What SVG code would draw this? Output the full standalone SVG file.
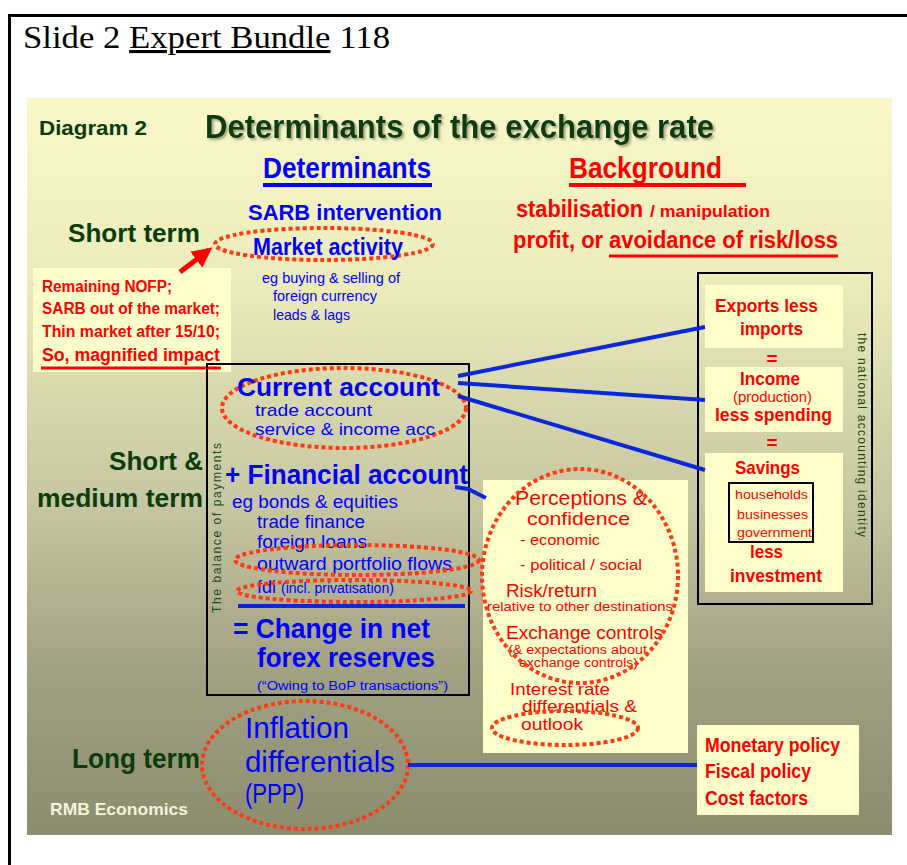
<svg xmlns="http://www.w3.org/2000/svg" width="907" height="865" viewBox="0 0 907 865">
<defs>
<linearGradient id="bg" x1="0" y1="0" x2="0" y2="1">
<stop offset="0" stop-color="#f8f8c8"/>
<stop offset="0.25" stop-color="#ebebbb"/>
<stop offset="0.55" stop-color="#c6c6a2"/>
<stop offset="0.8" stop-color="#9e9e80"/>
<stop offset="1" stop-color="#8c8c6e"/>
</linearGradient>
<filter id="sh" x="-5%" y="-20%" width="110%" height="150%">
<feDropShadow dx="2" dy="2" stdDeviation="1" flood-color="#707060" flood-opacity="0.6"/>
</filter>
<marker id="ah" viewBox="0 0 10 10" refX="8" refY="5" markerWidth="4" markerHeight="4" orient="auto">
<path d="M0,0 L10,5 L0,10 z" fill="#ff0000"/>
</marker>
<style>
text{font-family:"Liberation Sans",Arial,sans-serif}
.t{font-family:"Liberation Serif","Times New Roman",serif;fill:#000}
.g{fill:#0b3d0b;font-weight:bold}
.b{fill:#0000ff}
.r{fill:#ff0000}
.bd{font-weight:bold}
.box{fill:#ffffcc}
.frame{fill:none;stroke:#000;stroke-width:2}
.dot{fill:none;stroke:#ff3a12;stroke-width:4;stroke-dasharray:4 3}
.conn{fill:none;stroke:#0a28d8;stroke-width:4}
.ul-b{stroke:#0000ff;stroke-width:4}
.ul-r{stroke:#ff0000;stroke-width:3}
.vt{fill:#1c4a1c;font-size:12px}
</style>
</defs>

<!-- page frame and heading -->
<g id="page">
<path d="M9.5,865 L9.5,15.5 L907,15.5" fill="none" stroke="#000" stroke-width="3"/>
<text class="t" x="23" y="48" font-size="31" textLength="367" lengthAdjust="spacingAndGlyphs">Slide 2 <tspan text-decoration="underline">Expert Bundle</tspan> 118</text>
</g>

<!-- slide background -->
<g id="slide">
<rect x="27" y="98" width="865" height="737" fill="url(#bg)"/>
<text class="g" x="39" y="135" font-size="21" textLength="108" lengthAdjust="spacingAndGlyphs">Diagram 2</text>
<text class="g" x="205" y="138" font-size="34" textLength="509" lengthAdjust="spacingAndGlyphs" filter="url(#sh)">Determinants of the exchange rate</text>
<text class="b bd" x="263" y="178" font-size="29" textLength="168" lengthAdjust="spacingAndGlyphs">Determinants</text>
<line class="ul-b" x1="263" y1="185" x2="432" y2="185"/>
<text class="r bd" x="569" y="178" font-size="29" textLength="153" lengthAdjust="spacingAndGlyphs">Background</text>
<line x1="569" y1="185" x2="746" y2="185" stroke="#ff0000" stroke-width="4"/>
<text class="r bd" x="516" y="217" font-size="23" textLength="127" lengthAdjust="spacingAndGlyphs">stabilisation</text>
<text class="r bd" x="650" y="217" font-size="17" textLength="120" lengthAdjust="spacingAndGlyphs">/ manipulation</text>
<text class="r bd" x="513" y="248" font-size="23" textLength="325" lengthAdjust="spacingAndGlyphs">profit, or avoidance of risk/loss</text>
<line class="ul-r" x1="609" y1="256" x2="838" y2="256"/>
<text class="g" x="50" y="815" font-size="17" style="fill:#f4f4d8" textLength="138" lengthAdjust="spacingAndGlyphs">RMB Economics</text>
</g>

<!-- term labels -->
<g id="terms">
<text class="g" x="68" y="242" font-size="26" textLength="132" lengthAdjust="spacingAndGlyphs">Short term</text>
<text class="g" x="203" y="470" font-size="26" text-anchor="end">Short &amp;</text>
<text class="g" x="37" y="507" font-size="26" textLength="166" lengthAdjust="spacingAndGlyphs">medium term</text>
<text class="g" x="72" y="768" font-size="27" textLength="128" lengthAdjust="spacingAndGlyphs">Long term</text>
</g>

<!-- short term: SARB / market activity -->
<g id="market">
<text class="b bd" x="248" y="220" font-size="22" textLength="194" lengthAdjust="spacingAndGlyphs">SARB intervention</text>
<ellipse class="dot" cx="324" cy="244" rx="109" ry="16"/>
<text class="b bd" x="253" y="255" font-size="23" textLength="150" lengthAdjust="spacingAndGlyphs">Market activity</text>
<text class="b" x="262" y="283" font-size="15" textLength="138" lengthAdjust="spacingAndGlyphs">eg buying &amp; selling of</text>
<text class="b" x="273" y="301" font-size="15" textLength="104" lengthAdjust="spacingAndGlyphs">foreign currency</text>
<text class="b" x="273" y="320" font-size="15" textLength="77" lengthAdjust="spacingAndGlyphs">leads &amp; lags</text>
</g>

<!-- NOFP note -->
<g id="nofp">
<rect class="box" x="33" y="268" width="198" height="104"/>
<text class="r bd" x="42" y="292" font-size="16" textLength="130" lengthAdjust="spacingAndGlyphs">Remaining NOFP;</text>
<text class="r bd" x="42" y="314" font-size="16" textLength="178" lengthAdjust="spacingAndGlyphs">SARB out of the market;</text>
<text class="r bd" x="42" y="337" font-size="16" textLength="178" lengthAdjust="spacingAndGlyphs">Thin market after 15/10;</text>
<text class="r bd" x="42" y="361" font-size="18" textLength="178" lengthAdjust="spacingAndGlyphs">So, magnified impact</text>
<line class="ul-r" x1="41" y1="368" x2="221" y2="368"/>
</g>

<!-- balance of payments -->
<g id="bop">
<rect class="frame" x="207" y="364" width="262" height="331"/>
<text class="vt" transform="translate(221,613) rotate(-90)" textLength="170" lengthAdjust="spacing">The balance of payments</text>
<ellipse class="dot" cx="344" cy="408" rx="122" ry="40"/>
<text class="b bd" x="237" y="396" font-size="25" textLength="203" lengthAdjust="spacingAndGlyphs">Current account</text>
<text class="b" x="255" y="416" font-size="17" textLength="117" lengthAdjust="spacingAndGlyphs">trade account</text>
<text class="b" x="255" y="435" font-size="17" textLength="180" lengthAdjust="spacingAndGlyphs">service &amp; income acc</text>
<text class="b bd" x="225" y="484" font-size="27" textLength="243" lengthAdjust="spacingAndGlyphs">+ Financial account</text>
<text class="b" x="232" y="508" font-size="18" textLength="166" lengthAdjust="spacingAndGlyphs">eg bonds &amp; equities</text>
<text class="b" x="257" y="528" font-size="18" textLength="108" lengthAdjust="spacingAndGlyphs">trade finance</text>
<text class="b" x="257" y="548" font-size="18" textLength="110" lengthAdjust="spacingAndGlyphs">foreign loans</text>
<text class="b" x="257" y="570" font-size="18" textLength="195" lengthAdjust="spacingAndGlyphs">outward portfolio flows</text>
<text class="b" x="257" y="593" font-size="18">fdi <tspan font-size="14">(incl. privatisation)</tspan></text>
<ellipse class="dot" cx="357" cy="560" rx="122" ry="15"/>
<ellipse class="dot" cx="354" cy="591" rx="117" ry="11"/>
<line class="conn" x1="238" y1="606" x2="465" y2="606" stroke="#0000ff"/>
<text class="b bd" x="233" y="638" font-size="27" textLength="197" lengthAdjust="spacingAndGlyphs">= Change in net</text>
<text class="b bd" x="257" y="667" font-size="27" textLength="178" lengthAdjust="spacingAndGlyphs">forex reserves</text>
<text class="b" x="257" y="690" font-size="12.5" textLength="191" lengthAdjust="spacingAndGlyphs">(“Owing to BoP transactions”)</text>
</g>

<!-- perceptions -->
<g id="perceptions">
<rect class="box" x="483" y="480" width="205" height="273"/>
<text class="r" x="515" y="505" font-size="20" textLength="132" lengthAdjust="spacingAndGlyphs">Perceptions &amp;</text>
<text class="r" x="527" y="525" font-size="19" textLength="103" lengthAdjust="spacingAndGlyphs">confidence</text>
<text class="r" x="520" y="545" font-size="15" textLength="80" lengthAdjust="spacingAndGlyphs">- economic</text>
<text class="r" x="520" y="570" font-size="15" textLength="122" lengthAdjust="spacingAndGlyphs">- political / social</text>
<text class="r" x="506" y="597" font-size="18" textLength="91" lengthAdjust="spacingAndGlyphs">Risk/return</text>
<text class="r" x="487" y="611" font-size="12.5" textLength="186" lengthAdjust="spacingAndGlyphs">relative to other destinations</text>
<text class="r" x="506" y="639" font-size="18" textLength="157" lengthAdjust="spacingAndGlyphs">Exchange controls</text>
<text class="r" x="508" y="654" font-size="12.5" textLength="139" lengthAdjust="spacingAndGlyphs">(&amp; expectations about</text>
<text class="r" x="519" y="667" font-size="12.5" textLength="119" lengthAdjust="spacingAndGlyphs">exchange controls)</text>
<text class="r" x="510" y="695" font-size="17" textLength="100" lengthAdjust="spacingAndGlyphs">Interest rate</text>
<text class="r" x="522" y="712" font-size="17" textLength="115" lengthAdjust="spacingAndGlyphs">differentials &amp;</text>
<text class="r" x="521" y="730" font-size="17" textLength="62" lengthAdjust="spacingAndGlyphs">outlook</text>
<ellipse class="dot" cx="580" cy="576" rx="98" ry="107"/>
<ellipse class="dot" cx="565" cy="728" rx="73" ry="17"/>
</g>

<!-- national accounting identity -->
<g id="national">
<rect class="frame" x="698" y="273" width="174" height="331"/>
<text class="vt" transform="translate(858,333) rotate(90)" textLength="204" lengthAdjust="spacing">the national accounting identity</text>
<rect class="box" x="705" y="285" width="138" height="63"/>
<text class="r bd" x="715" y="312" font-size="19" textLength="103" lengthAdjust="spacingAndGlyphs">Exports less</text>
<text class="r bd" x="740" y="335" font-size="19" textLength="63" lengthAdjust="spacingAndGlyphs">imports</text>
<text class="r bd" x="772" y="365" font-size="19" text-anchor="middle">=</text>
<rect class="box" x="705" y="367" width="138" height="65"/>
<text class="r bd" x="740" y="385" font-size="18" textLength="60" lengthAdjust="spacingAndGlyphs">Income</text>
<text class="r" x="733" y="402" font-size="14" textLength="79" lengthAdjust="spacingAndGlyphs">(production)</text>
<text class="r bd" x="715" y="421" font-size="18" textLength="117" lengthAdjust="spacingAndGlyphs">less spending</text>
<text class="r bd" x="772" y="449" font-size="19" text-anchor="middle">=</text>
<rect class="box" x="705" y="453" width="138" height="139"/>
<text class="r bd" x="735" y="474" font-size="19" textLength="65" lengthAdjust="spacingAndGlyphs">Savings</text>
<rect class="frame" x="729" y="483" width="84" height="59"/>
<text class="r" x="735" y="499" font-size="13" textLength="73" lengthAdjust="spacingAndGlyphs">households</text>
<text class="r" x="737" y="519" font-size="13" textLength="71" lengthAdjust="spacingAndGlyphs">businesses</text>
<text class="r" x="737" y="537" font-size="13" textLength="75" lengthAdjust="spacingAndGlyphs">government</text>
<text class="r bd" x="750" y="558" font-size="19" textLength="33" lengthAdjust="spacingAndGlyphs">less</text>
<text class="r bd" x="730" y="582" font-size="19" textLength="92" lengthAdjust="spacingAndGlyphs">investment</text>
</g>

<!-- long term -->
<g id="inflation">
<ellipse class="dot" cx="305" cy="765" rx="103" ry="64"/>
<text class="b" x="245" y="738" font-size="30" textLength="104" lengthAdjust="spacingAndGlyphs">Inflation</text>
<text class="b" x="245" y="772" font-size="30" textLength="150" lengthAdjust="spacingAndGlyphs">differentials</text>
<text class="b" x="245" y="803" font-size="28" textLength="59" lengthAdjust="spacingAndGlyphs">(PPP)</text>
</g>

<g id="policy">
<rect class="box" x="697" y="725" width="162" height="90"/>
<text class="r bd" x="705" y="752" font-size="20" textLength="135" lengthAdjust="spacingAndGlyphs">Monetary policy</text>
<text class="r bd" x="705" y="778" font-size="20" textLength="106" lengthAdjust="spacingAndGlyphs">Fiscal policy</text>
<text class="r bd" x="705" y="805" font-size="20" textLength="103" lengthAdjust="spacingAndGlyphs">Cost factors</text>
</g>

<!-- connectors -->
<g id="connectors">
<line class="conn" x1="458" y1="376" x2="705" y2="327"/>
<line class="conn" x1="458" y1="383" x2="705" y2="400"/>
<line class="conn" x1="458" y1="396" x2="705" y2="470"/>
<polyline class="conn" points="455,487 468,489 486,498"/>
<line class="conn" x1="408" y1="765" x2="697" y2="765" stroke="#0000ff" stroke-width="5"/>
<line x1="180" y1="272" x2="209" y2="250" stroke="#ff0000" stroke-width="5" marker-end="url(#ah)"/>
</g>
</svg>
